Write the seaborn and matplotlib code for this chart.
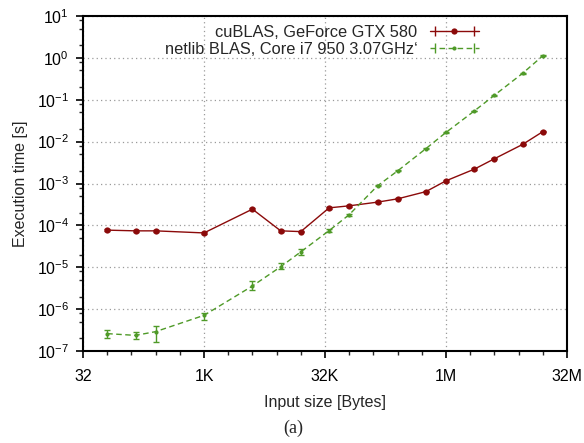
import numpy as np
import pandas as pd
import seaborn as sns
import matplotlib
matplotlib.use("Agg")
import matplotlib.pyplot as plt
from matplotlib.ticker import FixedLocator, FixedFormatter, LogLocator, NullFormatter
from matplotlib.lines import Line2D
from matplotlib.legend_handler import HandlerLine2D, HandlerTuple

# ---- data ----
sizes = [64, 144, 256, 1024, 4096, 9216, 16384, 36864, 65536, 147456, 262144,
         589824, 1048576, 2359296, 4194304, 9437184, 16777216]
cublas = [7.7e-5, 7.4e-5, 7.4e-5, 6.6e-5, 2.44e-4, 7.4e-5, 7.1e-5, 2.62e-4,
          2.93e-4, 3.59e-4, 4.3e-4, 6.4e-4, 1.16e-3, 2.2e-3, 3.9e-3, 8.6e-3, 1.73e-2]
cublas_lo = [7.4e-5, 7.1e-5, 7.1e-5, 6.3e-5, 2.3e-4, 7.1e-5, 6.8e-5, 2.5e-4,
             2.8e-4, 3.45e-4, 4.15e-4, 6.15e-4, 1.1e-3, 2.1e-3, 3.75e-3, 8.3e-3, 1.67e-2]
cublas_hi = [8.0e-5, 7.7e-5, 7.7e-5, 6.9e-5, 2.58e-4, 7.7e-5, 7.4e-5, 2.74e-4,
             3.06e-4, 3.73e-4, 4.45e-4, 6.65e-4, 1.22e-3, 2.3e-3, 4.05e-3, 8.9e-3, 1.79e-2]
netlib = [2.6e-7, 2.36e-7, 2.9e-7, 7.1e-7, 3.56e-6, 1.03e-5, 2.33e-5, 7.5e-5,
          1.8e-4, 8.8e-4, 2.0e-3, 6.8e-3, 1.66e-2, 5.4e-2, 0.128, 0.43, 1.12]
netlib_lo = [2.0e-7, 1.9e-7, 1.6e-7, 5.6e-7, 2.8e-6, 8.95e-6, 1.97e-5, 7.0e-5,
             1.72e-4, 8.5e-4, 1.94e-3, 6.6e-3, 1.62e-2, 5.3e-2, 0.125, 0.42, 1.1]
netlib_hi = [3.16e-7, 2.9e-7, 4.0e-7, 8.2e-7, 4.6e-6, 1.25e-5, 2.74e-5, 8.0e-5,
             1.88e-4, 9.1e-4, 2.06e-3, 7.0e-3, 1.7e-2, 5.5e-2, 0.131, 0.44, 1.14]

label_gpu = "cuBLAS, GeForce GTX 580"
label_cpu = "netlib BLAS, Core i7 950 3.07GHz\u2018"
xtick_vals = [32, 1024, 32768, 1048576, 33554432]
xtick_labels = ["32", "1K", "32K", "1M", "32M"]

RED = "#8b0a0a"
GREEN = "#4f9a28"

sns.set_style("white")
plt.rcParams["font.family"] = ["Liberation Sans", "DejaVu Sans"]
plt.rcParams["mathtext.fontset"] = "custom"
plt.rcParams["mathtext.rm"] = "Liberation Sans"
plt.rcParams["mathtext.it"] = "Liberation Sans:italic"
plt.rcParams["axes.unicode_minus"] = False

df = pd.DataFrame({
    "size": sizes * 2,
    "time": cublas + netlib,
    "series": [label_gpu] * len(sizes) + [label_cpu] * len(sizes),
})

fig = plt.figure(figsize=(5.84, 4.43), dpi=100)
ax = fig.add_axes([83 / 584, 1 - 351 / 443, (567 - 83) / 584, (351 - 16) / 443])

sns.lineplot(data=df[df.series == label_gpu], x="size", y="time", color=RED,
             marker="o", markersize=4.5, markeredgewidth=0, linewidth=1.0,
             ax=ax, legend=False)
sns.lineplot(data=df[df.series == label_cpu], x="size", y="time", color=GREEN,
             marker="o", markersize=3, markeredgewidth=0, linewidth=1.0,
             linestyle=(0, (4, 2.5)), ax=ax, legend=False)

ax.errorbar(sizes, cublas,
            yerr=[np.array(cublas) - np.array(cublas_lo), np.array(cublas_hi) - np.array(cublas)],
            fmt="none", ecolor=RED, elinewidth=1.0, capsize=2.5, capthick=1.0)
ax.errorbar(sizes, netlib,
            yerr=[np.array(netlib) - np.array(netlib_lo), np.array(netlib_hi) - np.array(netlib)],
            fmt="none", ecolor=GREEN, elinewidth=1.0, capsize=2.5, capthick=1.0)

ax.set_xscale("log", base=2)
ax.set_yscale("log")
ax.set_xlim(32, 33554432)
ax.set_ylim(1e-7, 10)

ax.xaxis.set_major_locator(FixedLocator(xtick_vals))
ax.xaxis.set_major_formatter(FixedFormatter(xtick_labels))
ax.xaxis.set_minor_locator(LogLocator(base=2, subs=(1.0,), numticks=40))
ax.xaxis.set_minor_formatter(NullFormatter())
ax.yaxis.set_major_locator(LogLocator(base=10, numticks=20))
ax.yaxis.set_minor_locator(LogLocator(base=10, subs=(2.0, 5.0, 8.0), numticks=20))
ax.yaxis.set_minor_formatter(NullFormatter())

ax.tick_params(axis="both", which="major", direction="out", length=5, width=1.2,
               labelsize=11.5, colors="black")
ax.tick_params(axis="x", which="major", pad=8)
ax.tick_params(axis="y", which="major", pad=5)
ax.tick_params(axis="both", which="minor", direction="out", length=3, width=1.0)
ax.tick_params(left=True, bottom=True, which="both")

for s in ax.spines.values():
    s.set_color("black")
    s.set_linewidth(1.5)

ax.grid(True, which="major", color="#9a9a9a", linestyle=(0, (1, 2.5)), linewidth=0.9)
ax.set_axisbelow(True)

ax.set_xlabel("Input size [Bytes]", fontsize=11.5, labelpad=8)
ax.set_ylabel("Execution time [s]", fontsize=11.5, labelpad=6)

# legend (gnuplot style: text left of the sample, sample with end caps)
h1 = Line2D([], [], color=RED, lw=1.0, marker="o", markersize=4.5, markeredgewidth=0)
c1 = Line2D([], [], color=RED, lw=0, marker="|", markersize=6.5, markeredgewidth=1.0)
h2 = Line2D([], [], color=GREEN, lw=1.0, ls=(0, (4, 2.5)), marker="o", markersize=3, markeredgewidth=0)
c2 = Line2D([], [], color=GREEN, lw=0, marker="|", markersize=6.5, markeredgewidth=1.0)
fig.legend([(h1, c1), (h2, c2)], [label_gpu, label_cpu], loc="upper right",
           bbox_to_anchor=(479 / 584, 1 - 25 / 443), frameon=False,
           markerfirst=False, fontsize=11.8, handlelength=3.0, handletextpad=0.75,
           labelspacing=0.12, borderaxespad=0, borderpad=0,
           handler_map={c1: HandlerLine2D(numpoints=2), c2: HandlerLine2D(numpoints=2),
                        tuple: HandlerTuple(ndivide=1, pad=0)})

fig.text(293 / 584, 1 - 428 / 443, "(a)", family=["Liberation Serif", "DejaVu Serif"],
         fontsize=13, ha="center", va="center")

fig.savefig("out.png", dpi=100)
